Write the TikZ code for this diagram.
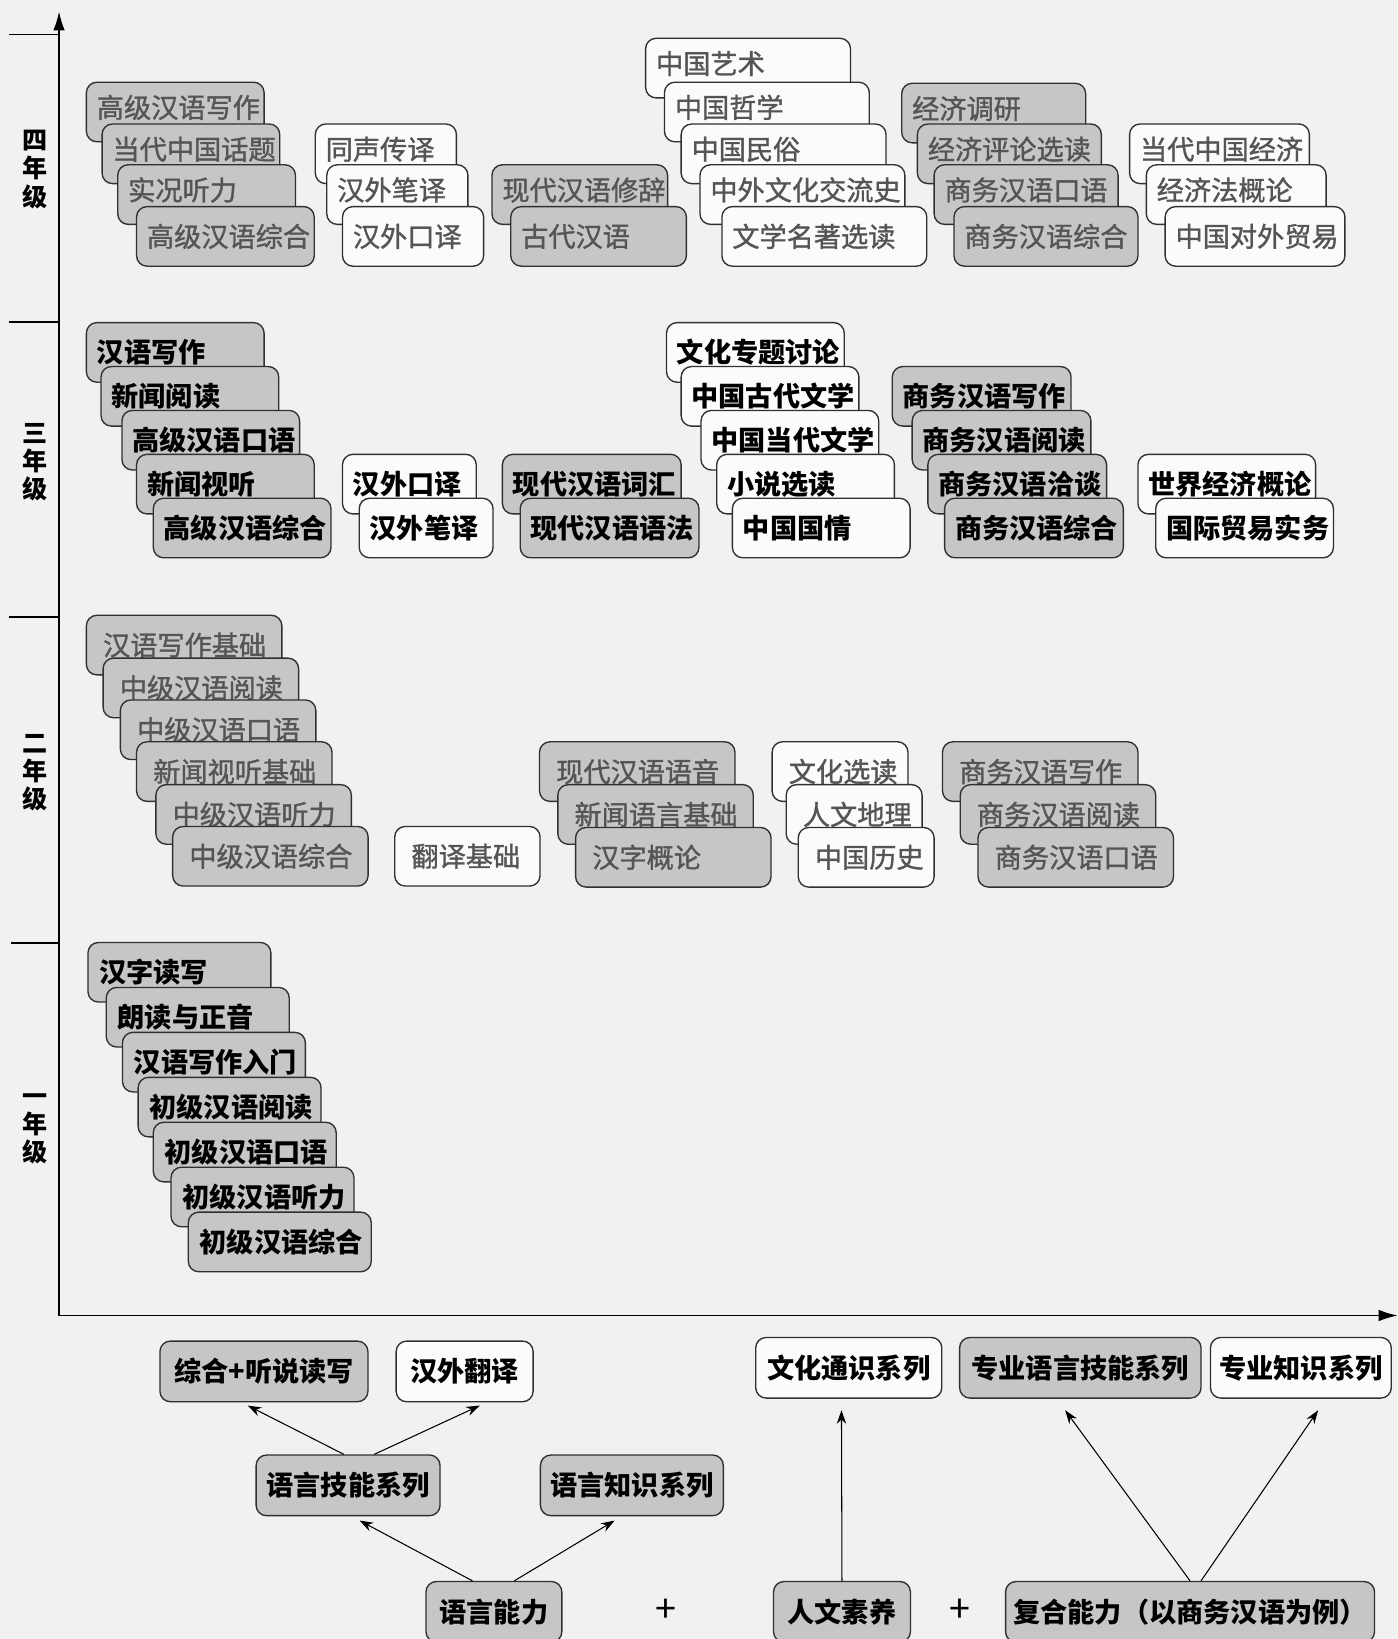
\documentclass[tikz,border=0pt]{standalone}
\usepackage{fontspec}
\setmainfont{Noto Sans CJK SC}
\newfontfamily\midfont{Noto Sans CJK SC}[FakeBold=1.2]
\usetikzlibrary{arrows.meta}

\definecolor{pagebg}{HTML}{F1F1F1}
\definecolor{boxgray}{HTML}{C6C6C6}
\definecolor{boxwhite}{HTML}{FBFBFB}
\definecolor{boxedge}{HTML}{303030}
\definecolor{paleink}{HTML}{555555}

\tikzset{
  course/.style={draw=boxedge, line width=1.3pt, rounded corners=10pt, anchor=north west,
    minimum height=57pt, inner xsep=10pt, inner ysep=0pt, align=left,
    font=\fontsize{26}{26}\selectfont},
  gbox/.style={course, fill=boxgray, text width=#1},
  wbox/.style={course, fill=boxwhite, text width=#1},
  pale/.style={text=paleink, font=\fontsize{26}{26}\midfont},
  dark/.style={font=\fontsize{26}{26}\selectfont\bfseries},
  lift/.style={text height=18pt, text depth=7pt},
  series/.style={draw=boxedge, line width=1.3pt, rounded corners=10pt, minimum height=58pt,
    inner sep=0pt, font=\fontsize{26}{26}\selectfont\bfseries},
  grade/.style={font=\fontsize{24}{27}\selectfont\bfseries, align=center, inner sep=0pt},
  axisline/.style={line width=1.6pt},
  feed/.style={line width=1pt, -{Stealth[length=13pt,width=9pt]}},
}

\begin{document}
\begin{tikzpicture}[x=1pt, y=-1pt]
  \clip (0,0) rectangle (1337,1568);
  \fill[pagebg] (0,0) rectangle (1337,1568);

  % axes and grade ticks
  \coordinate (origin) at (56.5,1258.5);
  \coordinate (ytip) at (56.5,11);
  \coordinate (xtip) at (1337,1258.5);
  \draw[axisline, -{Latex[length=18pt,width=11pt]}] (origin) -- (ytip);
  \draw[axisline, -{Latex[length=18pt,width=11pt]}] (origin) -- (xtip);
  \draw[axisline] (9,33) -- (56.5,33);
  \draw[axisline] (9,308) -- (56.5,308);
  \draw[axisline] (9,590) -- (56.5,590);
  \draw[axisline] (11,902) -- (56.5,902);

  \node[grade] (grade4) at (33.5,162) {四\\年\\级};
  \node[grade] (grade3) at (34,442) {三\\年\\级};
  \node[grade] (grade2) at (34,739) {二\\年\\级};
  \node[grade] (grade1) at (34,1080) {一\\年\\级};

  % 四年级
  \node[gbox=150pt, pale, lift] (g4skill1) at (82,78) {高级汉语写作};
  \node[gbox=150pt, pale, lift] (g4skill2) at (97,118) {当代中国话题};
  \node[gbox=150pt, pale, lift] (g4skill3) at (112,157) {实况听力};
  \node[gbox=150pt, pale] (g4skill4) at (130,197) {高级汉语综合};
  \node[wbox=115pt, pale, lift] (g4trans1) at (301,118) {同声传译};
  \node[wbox=115pt, pale, lift] (g4trans2) at (312,157) {汉外笔译};
  \node[wbox=115pt, pale] (g4trans3) at (327,197) {汉外口译};
  \node[gbox=148pt, pale, lift] (g4know1) at (470,157) {现代汉语修辞};
  \node[gbox=148pt, pale] (g4know2) at (488,197) {古代汉语};
  \node[wbox=176pt, pale, lift] (g4cult1) at (617,36) {中国艺术};
  \node[wbox=176pt, pale, lift] (g4cult2) at (635,78) {中国哲学};
  \node[wbox=176pt, pale, lift] (g4cult3) at (651,118) {中国民俗};
  \node[wbox=176pt, pale, lift] (g4cult4) at (669,157) {中外文化交流史};
  \node[wbox=176pt, pale] (g4cult5) at (690,197) {文学名著选读};
  \node[gbox=156pt, pale, lift] (g4biz1) at (862,79) {经济调研};
  \node[gbox=156pt, pale, lift] (g4biz2) at (877,118) {经济评论选读};
  \node[gbox=156pt, pale, lift] (g4biz3) at (893,157) {商务汉语口语};
  \node[gbox=156pt, pale] (g4biz4) at (912,197) {商务汉语综合};
  \node[wbox=152pt, pale, lift] (g4econ1) at (1080,118) {当代中国经济};
  \node[wbox=152pt, pale, lift] (g4econ2) at (1096,157) {经济法概论};
  \node[wbox=152pt, pale] (g4econ3) at (1114,197) {中国对外贸易};

  % 三年级
  \node[gbox=150pt, dark] (g3skill1) at (82,308) {汉语写作};
  \node[gbox=150pt, dark] (g3skill2) at (96,350) {新闻阅读};
  \node[gbox=150pt, dark] (g3skill3) at (116,392) {高级汉语口语};
  \node[gbox=150pt, dark] (g3skill4) at (130,434) {新闻视听};
  \node[gbox=150pt, dark] (g3skill5) at (146,476) {高级汉语综合};
  \node[wbox=108pt, dark] (g3trans1) at (327,434) {汉外口译};
  \node[wbox=108pt, dark] (g3trans2) at (343,476) {汉外笔译};
  \node[gbox=151pt, dark] (g3know1) at (480,434) {现代汉语词汇};
  \node[gbox=151pt, dark] (g3know2) at (497,476) {现代汉语语法};
  \node[wbox=150pt, dark] (g3cult1) at (637,308) {文化专题讨论};
  \node[wbox=150pt, dark] (g3cult2) at (651,350) {中国古代文学};
  \node[wbox=150pt, dark] (g3cult3) at (670,392) {中国当代文学};
  \node[wbox=150pt, dark] (g3cult4) at (685,434) {小说选读};
  \node[wbox=150pt, dark] (g3cult5) at (700,476) {中国国情};
  \node[gbox=151pt, dark] (g3biz1) at (853,350) {商务汉语写作};
  \node[gbox=151pt, dark] (g3biz2) at (872,392) {商务汉语阅读};
  \node[gbox=151pt, dark] (g3biz3) at (887,434) {商务汉语洽谈};
  \node[gbox=151pt, dark] (g3biz4) at (903,476) {商务汉语综合};
  \node[wbox=150pt, dark] (g3econ1) at (1088,434) {世界经济概论};
  \node[wbox=150pt, dark] (g3econ2) at (1105,476) {国际贸易实务};

  % 二年级
  \node[gbox=155pt, pale, inner xsep=16pt] (g2skill1) at (82,588) {汉语写作基础};
  \node[gbox=155pt, pale, inner xsep=16pt] (g2skill2) at (98,629) {中级汉语阅读};
  \node[gbox=155pt, pale, inner xsep=16pt] (g2skill3) at (114.5,669) {中级汉语口语};
  \node[gbox=155pt, pale, inner xsep=16pt] (g2skill4) at (130,709) {新闻视听基础};
  \node[gbox=155pt, pale, inner xsep=16pt] (g2skill5) at (148.5,750) {中级汉语听力};
  \node[gbox=155pt, pale, inner xsep=16pt] (g2skill6) at (164.5,790) {中级汉语综合};
  \node[wbox=107pt, pale, inner xsep=16pt] (g2trans1) at (377,790) {翻译基础};
  \node[gbox=155pt, pale, inner xsep=16pt] (g2know1) at (515.5,709) {现代汉语语音};
  \node[gbox=155pt, pale, inner xsep=16pt] (g2know2) at (533,750) {新闻语言基础};
  \node[gbox=155pt, pale, inner xsep=16pt] (g2know3) at (550,791) {汉字概论};
  \node[wbox=98pt, pale, inner xsep=16pt] (g2cult1) at (738,709) {文化选读};
  \node[wbox=98pt, pale, inner xsep=16pt] (g2cult2) at (751.5,750) {人文地理};
  \node[wbox=98pt, pale, inner xsep=16pt] (g2cult3) at (763,791) {中国历史};
  \node[gbox=155pt, pale, inner xsep=16pt] (g2biz1) at (901,709) {商务汉语写作};
  \node[gbox=155pt, pale, inner xsep=16pt] (g2biz2) at (918,750) {商务汉语阅读};
  \node[gbox=155pt, pale, inner xsep=16pt] (g2biz3) at (935,791) {商务汉语口语};

  % 一年级
  \node[gbox=153pt, dark, inner xsep=11pt] (g1skill1) at (83.5,901) {汉字读写};
  \node[gbox=153pt, dark, inner xsep=11pt] (g1skill2) at (101,944) {朗读与正音};
  \node[gbox=153pt, dark, inner xsep=11pt] (g1skill3) at (116.5,987) {汉语写作入门};
  \node[gbox=153pt, dark, inner xsep=11pt] (g1skill4) at (131.5,1030) {初级汉语阅读};
  \node[gbox=153pt, dark, inner xsep=11pt] (g1skill5) at (146,1073) {初级汉语口语};
  \node[gbox=153pt, dark, inner xsep=11pt] (g1skill6) at (163,1116) {初级汉语听力};
  \node[gbox=153pt, dark, inner xsep=11pt] (g1skill7) at (179.5,1159) {初级汉语综合};

  % course series and abilities
  \node[series, fill=boxgray, minimum width=199pt] (zonghe) at (252.5,1312) {综合+听说读写};
  \node[series, fill=boxwhite, minimum width=131pt] (hanwai) at (444.5,1312) {汉外翻译};
  \node[series, fill=boxwhite, minimum width=178pt] (wenhua) at (812,1308.5) {文化通识系列};
  \node[series, fill=boxgray, minimum width=231pt] (zyjineng) at (1033.5,1308.5) {专业语言技能系列};
  \node[series, fill=boxwhite, minimum width=173pt] (zyzhishi) at (1244.5,1308.5) {专业知识系列};
  \node[series, fill=boxgray, minimum width=176pt] (jineng) at (333,1421) {语言技能系列};
  \node[series, fill=boxgray, minimum width=175pt] (zhishi) at (604.5,1421) {语言知识系列};
  \node[series, fill=boxgray, minimum width=130pt] (nengli) at (472.5,1542) {语言能力};
  \node[series, fill=boxgray, minimum width=131pt] (renwen) at (805.5,1542) {人文素养};
  \node[series, fill=boxgray, minimum width=353pt] (fuhe) at (1138.5,1542) {复合能力（以商务汉语为例）};
  \node[font=\fontsize{36}{36}\selectfont] (plus1) at (637,1541) {+};
  \node[font=\fontsize{36}{36}\selectfont] (plus2) at (918,1541) {+};

  \draw[feed] ([xshift=-4pt]jineng.north) -- ([xshift=-15.5pt,yshift=-3pt]zonghe.south);
  \draw[feed] ([xshift=25pt]jineng.north) -- ([xshift=14.5pt,yshift=-3pt]hanwai.south);
  \draw[feed] ([xshift=-20.5pt]nengli.north) -- ([xshift=11pt,yshift=-4pt]jineng.south);
  \draw[feed] ([xshift=19.5pt]nengli.north) -- ([xshift=-16.5pt,yshift=-4pt]zhishi.south);
  \draw[feed] (renwen.north) -- ([xshift=-7pt,yshift=-11pt]wenhua.south);
  \draw[feed] (fuhe.north) -- ([xshift=-14.5pt,yshift=-11pt]zyjineng.south);
  \draw[feed] ([xshift=10.5pt]fuhe.north) -- ([xshift=16.5pt,yshift=-11pt]zyzhishi.south);
\end{tikzpicture}
\end{document}
